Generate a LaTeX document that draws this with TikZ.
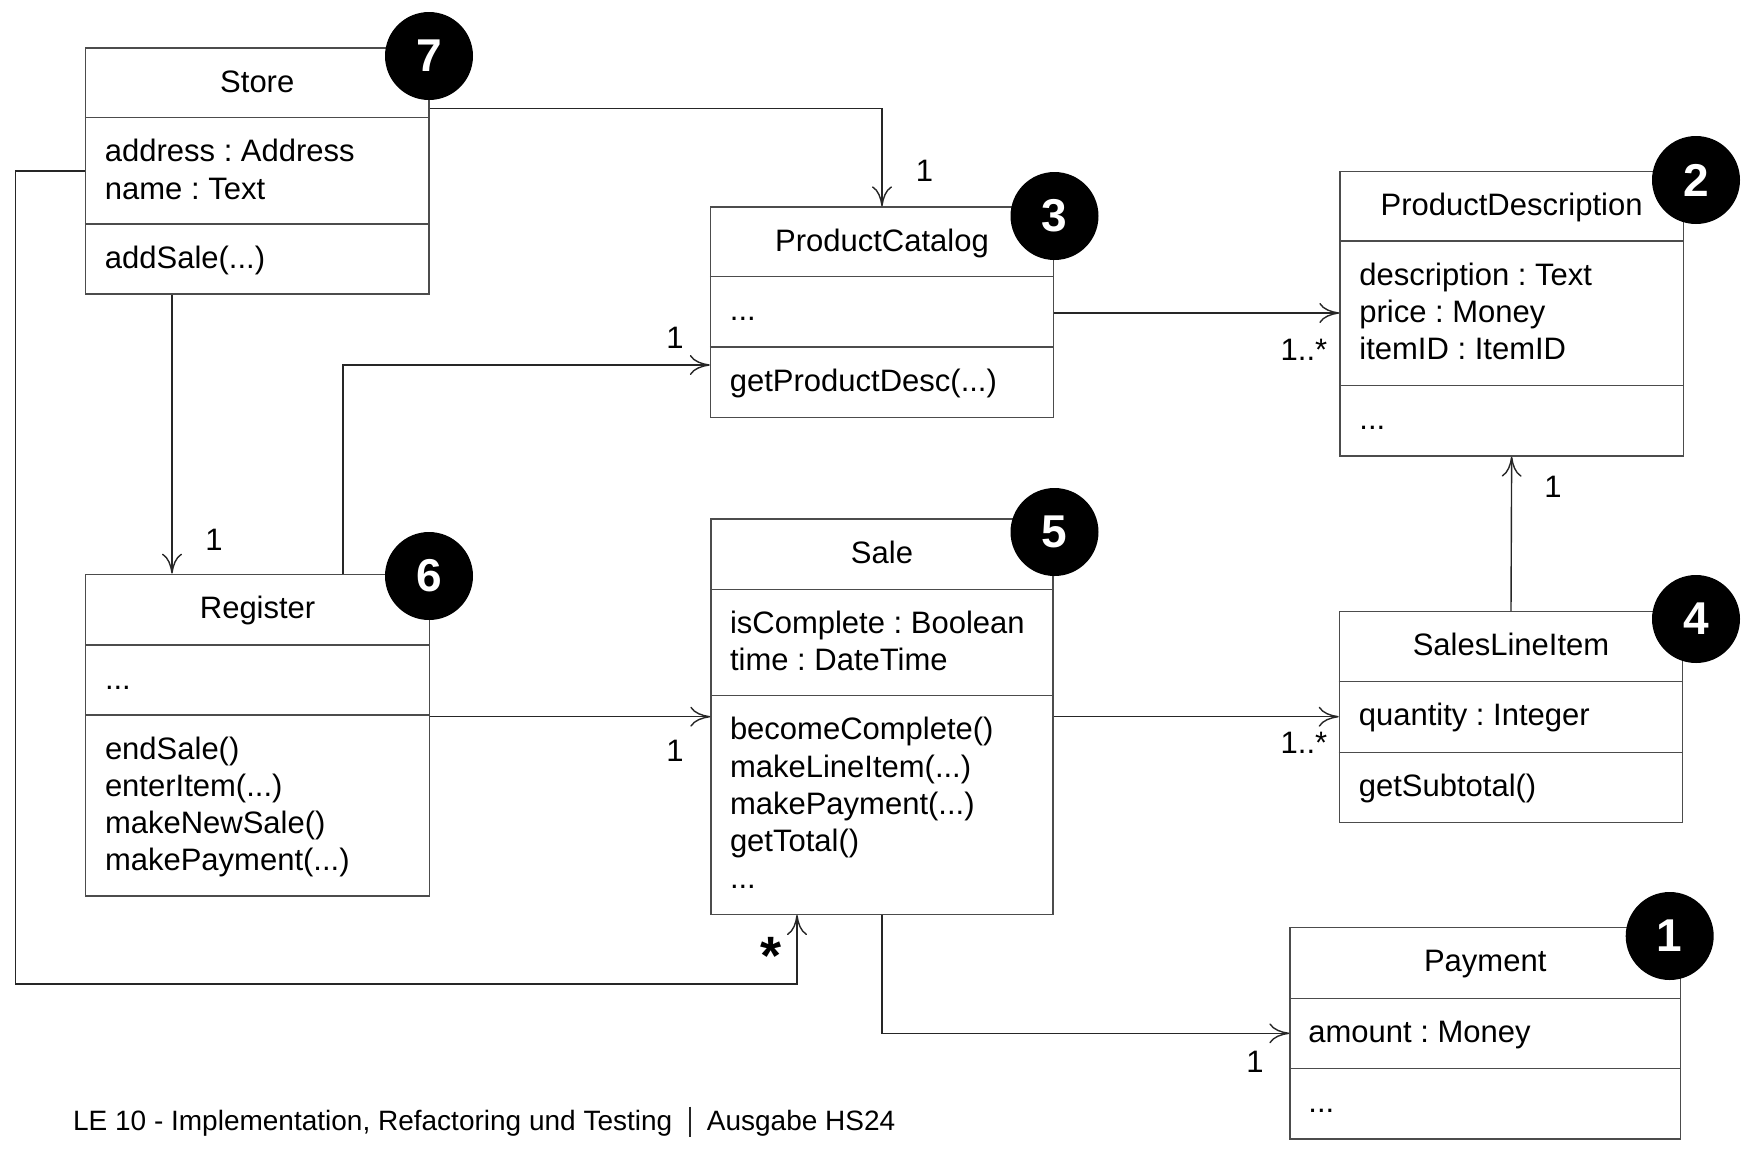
\documentclass[tikz,border=0pt]{standalone}
\usepackage{fontspec}
\setmainfont{Liberation Sans}
\usetikzlibrary{arrows.meta,fit}
\frenchspacing
\begin{document}
\begin{tikzpicture}[x=0.5pt,y=-0.5pt,
  cls/.style={draw=black!70, line width=0.7pt, inner sep=0pt, fill=white},
  sep/.style={draw=black!70, line width=0.7pt},
  txt/.style={anchor=base west, inner sep=0pt, font=\fontsize{15.5}{18.6}\selectfont},
  ttl/.style={anchor=base, inner sep=0pt, font=\fontsize{15.5}{18.6}\selectfont},
  mult/.style={inner sep=0pt, font=\fontsize{15.5}{18.6}\selectfont},
  assoc/.style={draw=black!85, line width=0.7pt, -{To[length=10pt,width=10pt]}},
  badge/.style={circle, fill=black, minimum size=44pt, inner sep=0pt, text=white, font=\fontsize{23}{23}\selectfont\bfseries}
]
\useasboundingbox (0,0) rectangle (1753,1153);

% ---------- Store ----------
\node[cls, fit={(85.5,48) (429,294)}] (store) {};
\draw[sep] (store.west |- 0,117.5) -- (store.east |- 0,117.5);
\draw[sep] (store.west |- 0,224) -- (store.east |- 0,224);
\node[ttl] (store-t) at (257.25,92.3) {Store};
\node[txt] (store-a1) at (104.5,161.7) {address : Address};
\node[txt] (store-a2) at (104.5,199) {name : Text};
\node[txt] (store-o1) at (104.5,268.3) {addSale(...)};

% ---------- ProductCatalog ----------
\node[cls, fit={(710.5,207) (1053.5,417.5)}] (pc) {};
\draw[sep] (pc.west |- 0,276.5) -- (pc.east |- 0,276.5);
\draw[sep] (pc.west |- 0,347) -- (pc.east |- 0,347);
\node[ttl] (pc-t) at (882,251) {ProductCatalog};
\node[txt] (pc-a1) at (729.5,320.5) {...};
\node[txt] (pc-o1) at (729.5,391) {getProductDesc(...)};

% ---------- ProductDescription ----------
\node[cls, fit={(1340,171.7) (1683.3,456)}] (pd) {};
\draw[sep] (pd.west |- 0,241) -- (pd.east |- 0,241);
\draw[sep] (pd.west |- 0,385.7) -- (pd.east |- 0,385.7);
\node[ttl] (pd-t) at (1511.6,215.7) {ProductDescription};
\node[txt] (pd-a1) at (1359,285) {description : Text};
\node[txt] (pd-a2) at (1359,322.3) {price : Money};
\node[txt] (pd-a3) at (1359,359.6) {itemID : ItemID};
\node[txt] (pd-o1) at (1359,429.7) {...};

% ---------- Register ----------
\node[cls, fit={(85.7,574.3) (429.6,896)}] (reg) {};
\draw[sep] (reg.west |- 0,645) -- (reg.east |- 0,645);
\draw[sep] (reg.west |- 0,715) -- (reg.east |- 0,715);
\node[ttl] (reg-t) at (257.6,618.3) {Register};
\node[txt] (reg-a1) at (104.6,689) {...};
\node[txt] (reg-o1) at (104.6,759) {endSale()};
\node[txt] (reg-o2) at (104.6,796.3) {enterItem(...)};
\node[txt] (reg-o3) at (104.6,833.6) {makeNewSale()};
\node[txt] (reg-o4) at (104.6,870.9) {makePayment(...)};

% ---------- Sale ----------
\node[cls, fit={(711,519) (1053,914.3)}] (sale) {};
\draw[sep] (sale.west |- 0,589.3) -- (sale.east |- 0,589.3);
\draw[sep] (sale.west |- 0,695.7) -- (sale.east |- 0,695.7);
\node[ttl] (sale-t) at (882,563) {Sale};
\node[txt] (sale-a1) at (729.6,633.3) {isComplete : Boolean};
\node[txt] (sale-a2) at (729.6,670.6) {time : DateTime};
\node[txt] (sale-o1) at (729.6,739.7) {becomeComplete()};
\node[txt] (sale-o2) at (729.6,777) {makeLineItem(...)};
\node[txt] (sale-o3) at (729.6,814.3) {makePayment(...)};
\node[txt] (sale-o4) at (729.6,851.6) {getTotal()};
\node[txt] (sale-o5) at (729.6,888.9) {...};

% ---------- SalesLineItem ----------
\node[cls, fit={(1339.4,611.7) (1682.6,822.3)}] (sli) {};
\draw[sep] (sli.west |- 0,681.7) -- (sli.east |- 0,681.7);
\draw[sep] (sli.west |- 0,752.3) -- (sli.east |- 0,752.3);
\node[ttl] (sli-t) at (1511,655.7) {SalesLineItem};
\node[txt] (sli-a1) at (1358.4,725.7) {quantity : Integer};
\node[txt] (sli-o1) at (1358.4,796.3) {getSubtotal()};

% ---------- Payment ----------
\node[cls, fit={(1290,927.7) (1680.3,1139)}] (pay) {};
\draw[sep] (pay.west |- 0,998.3) -- (pay.east |- 0,998.3);
\draw[sep] (pay.west |- 0,1068.3) -- (pay.east |- 0,1068.3);
\node[ttl] (pay-t) at (1485.2,971.7) {Payment};
\node[txt] (pay-a1) at (1308,1042.3) {amount : Money};
\node[txt] (pay-o1) at (1308,1112.3) {...};

% ---------- Associations ----------
\draw[assoc] (store.east |- 0,108.3) -| (pc.north);
\draw[assoc] (172,0 |- store.south) -- (172,0 |- reg.north);
\draw[assoc] (store.west |- 0,171) -| (15.3,984) -| (sale.south -| 797,0);
\draw[assoc] (343,0 |- reg.north) |- (pc.west |- 0,365);
\draw[assoc] (reg.east |- 0,716.7) -- (sale.west |- 0,716.7);
\draw[assoc] (pc.east |- 0,313) -- (pd.west |- 0,313);
\draw[assoc] (sale.east |- 0,716.7) -- (sli.west |- 0,716.7);
\draw[assoc] (sli.north) -- (pd.south);
\draw[assoc] (sale.south) |- (pay.west |- 0,1033.3);

% ---------- Multiplicities ----------
\node[mult] (m1) at (924.5,170.7) {1};
\node[mult] (m2) at (214,540) {1};
\node[mult] (m3) at (675,338) {1};
\node[mult] (m4) at (675,751) {1};
\node[mult] (m5) at (1304,350) {1..*};
\node[mult] (m6) at (1304,743) {1..*};
\node[mult] (m7) at (1553,487) {1};
\node[mult] (m8) at (1255,1062) {1};
\node[mult, font=\fontsize{27}{27}\selectfont\bfseries] (m9) at (771,956) {*};

% ---------- Badges ----------
\node[badge] (b7) at (429,56) {7};
\node[badge] (b3) at (1054.5,216) {3};
\node[badge] (b2) at (1696,180) {2};
\node[badge] (b6) at (429,576) {6};
\node[badge] (b5) at (1054.5,532) {5};
\node[badge] (b4) at (1696,619) {4};
\node[badge] (b1) at (1669.7,936) {1};

% ---------- Footer ----------
\node[anchor=base west, inner sep=0pt, font=\fontsize{14}{16}\selectfont] (foot1) at (72.7,1130) {LE 10 - Implementation, Refactoring und Testing};
\node[anchor=base west, inner sep=0pt, font=\fontsize{14}{16}\selectfont] (foot2) at (706.5,1130) {Ausgabe HS24};
\draw[black!85, line width=0.8pt] (690,1106.7) -- (690,1136.7);
\end{tikzpicture}
\end{document}
